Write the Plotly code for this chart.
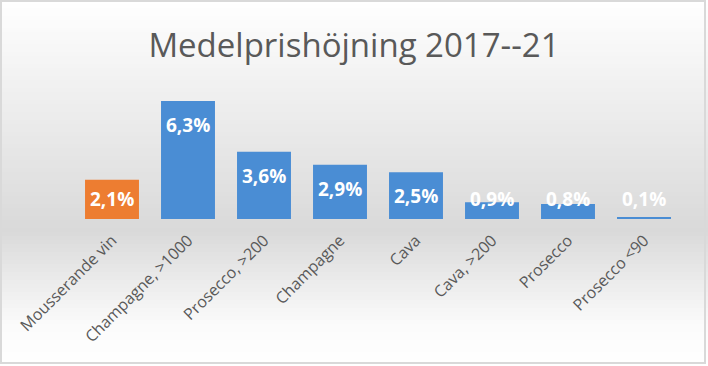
import plotly.graph_objects as go

categories = ["Mousserande vin", "Champagne, >1000", "Prosecco, >200", "Champagne",
              "Cava", "Cava, >200", "Prosecco", "Prosecco <90"]
values = [2.1, 6.3, 3.6, 2.9, 2.5, 0.9, 0.8, 0.1]
labels = ["2,1%", "6,3%", "3,6%", "2,9%", "2,5%", "0,9%", "0,8%", "0,1%"]
title_text = "Medelprishöjning 2017--21"

W, H = 708, 366
L, R, T, B = 74, 26, 88, 147
PW, PH = W - L - R, H - T - B
YMAX = 7.0
unit = PH / YMAX  # px per data unit

colors = ["#ED7D31"] + ["#4A8DD4"] * (len(values) - 1)

fig = go.Figure()
fig.add_trace(go.Bar(
    x=categories, y=values,
    marker=dict(color=colors, line=dict(width=0)),
    width=0.71, hoverinfo="skip",
))

for c, v, t in zip(categories, values, labels):
    yc = max(v - 24 / unit, 20 / unit)
    fig.add_annotation(x=c, y=yc, text=t, showarrow=False, xref="x", yref="y",
                       yanchor="middle", xanchor="center",
                       font=dict(family="Open Sans", size=19, color="white", weight="bold"))

def px2py(ypx):
    return (H - B - ypx) / PH

def lerp(a, b, f):
    return a + (b - a) * f

stops = [(0, 255), (230, 217), (325, 251), (366, 255)]
def gray_at(y):
    for (y0, g0), (y1, g1) in zip(stops, stops[1:]):
        if y0 <= y <= y1:
            return lerp(g0, g1, (y - y0) / (y1 - y0))
    return 255

shapes = []
x0p, x1p = -L / PW, 1 + R / PW
step = 4
for y in range(0, H, step):
    g = int(round(gray_at(y + step / 2)))
    shapes.append(dict(type="rect", xref="paper", yref="paper", layer="below",
                       x0=x0p, x1=x1p, y0=px2py(y + step), y1=px2py(y),
                       fillcolor=f"rgb({g},{g},{g})", line=dict(width=0)))
shapes.append(dict(type="rect", xref="paper", yref="paper", layer="above",
                   x0=(1 - L) / PW, x1=1 + (R - 3) / PW, y0=px2py(H - 3), y1=px2py(1),
                   fillcolor="rgba(0,0,0,0)", line=dict(color="#D9D9D9", width=2)))

fig.update_layout(
    width=W, height=H,
    margin=dict(l=L, r=R, t=T, b=B, autoexpand=False),
    paper_bgcolor="white", plot_bgcolor="rgba(0,0,0,0)",
    showlegend=False, bargap=0.29,
    shapes=shapes,
    title=dict(text=title_text, x=0.5, xanchor="center", y=1 - 45 / H, yanchor="middle",
               font=dict(family="Open Sans", size=33, color="#595959")),
    xaxis=dict(tickangle=-45, tickfont=dict(family="Open Sans", size=16, color="#595959"),
               ticklabelstandoff=8,
               showgrid=False, showline=False, zeroline=False, ticks="", fixedrange=True),
    yaxis=dict(range=[0, YMAX], visible=False, showgrid=False, zeroline=False, fixedrange=True),
)

fig.write_html("out.html", config={"displayModeBar": False},
               post_script="document.body.style.margin='0';")
